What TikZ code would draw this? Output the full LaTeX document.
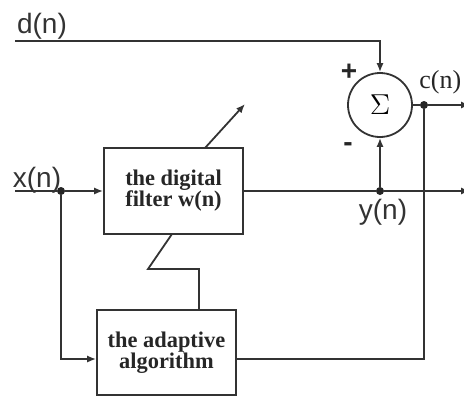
\documentclass[tikz,border=0pt]{standalone}
\usepackage{fontspec}
\setmainfont{Liberation Serif}
\setsansfont{Liberation Sans}
\usetikzlibrary{arrows.meta,calc}
\begin{document}
\begin{tikzpicture}[x=0.5pt,y=-0.5pt,
  line/.style={draw=black!80, line width=0.9pt},
  arr/.style={line, -{Latex[length=4.5pt,width=3.6pt]}},
  blk/.style={draw=black!80, line width=0.9pt, fill=white, minimum width=69.5pt,
    minimum height=43pt, inner sep=0pt, text=black!85,
    font=\fontsize{11.2}{10.5}\selectfont\bfseries, align=center},
  dot/.style={circle, fill=black!85, inner sep=0pt, minimum size=4pt},
  sig/.style={font=\sffamily\fontsize{14}{14}\selectfont, text=black!80, inner sep=0pt},
  sumnode/.style={circle, draw=black!80, line width=0.9pt, minimum size=32pt, inner sep=0pt}
]
\useasboundingbox (0,0) rectangle (464,396);
% blocks
\node[blk] (filter) at (173.5,191) {the digital\\filter w(n)};
\node[blk, minimum height=42.5pt] (adapt) at (166.5,352.5) {the adaptive\\algorithm};
\node[sumnode] (sum) at (380,105) {\fontsize{14}{14}\selectfont$\Sigma$};
% d(n)
\coordinate (dstart) at (15,41);
\coordinate (dcorner) at (380,41);
\draw[arr] (dstart) -- (dcorner) -- (sum.north);
% x(n)
\coordinate (xstart) at (15,191);
\node[dot] (xdot) at (61,191) {};
\draw[line] (xstart) -- (xdot);
\draw[arr] (xdot) -- (filter.west);
\coordinate (xcorner) at (61,359);
\draw[arr] (xdot) -- (xcorner) -- (xcorner -| adapt.west);
% y(n)
\node[dot] (ydot) at (380,191) {};
\draw[line] (filter.east) -- (ydot);
\coordinate (yend) at (470,191);
\draw[arr] (ydot) -- (yend);
\draw[arr] (ydot) -- (sum.south);
% e(n)
\node[dot] (edot) at (424,105) {};
\draw[line] (sum.east) -- (edot);
\coordinate (eend) at (470,105);
\draw[arr] (edot) -- (eend);
\coordinate (ecorner) at (424,359);
\draw[line] (edot) -- (ecorner) -- (ecorner -| adapt.east);
% adaptation link
\coordinate (w1) at (172,234);
\coordinate (w2) at (148,269);
\coordinate (w3) at (199,269);
\draw[line] (w1) -- (w2) -- (w3) -- (w3 |- adapt.north);
\coordinate (a1) at (205,148);
\coordinate (a2) at (245,104);
\draw[arr] (a1) -- (a2);
% labels
\node[sig] (dlab) at (42,26) {d(n)};
\node[sig] (xlab) at (37,180) {x(n)};
\node[sig] (ylab) at (383,212) {y(n)};
\node[font=\fontsize{13}{13}\selectfont, text=black!85, anchor=west, inner sep=0pt] (elab) at (419,82) {c(n)};
\node[font=\sffamily\bfseries\fontsize{14}{14}\selectfont, text=black!85, inner sep=0pt] (plus) at (349,72) {+};
\node[font=\sffamily\bfseries\fontsize{14}{14}\selectfont, text=black!85, inner sep=0pt] (minus) at (348,147) {-};
\end{tikzpicture}
\end{document}
